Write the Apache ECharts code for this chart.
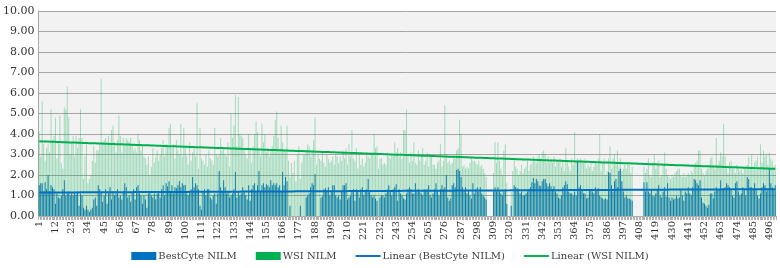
<!DOCTYPE html>
<html>
<head>
<meta charset="utf-8">
<script src="https://cdn.jsdelivr.net/npm/echarts@6/dist/echarts.min.js"></script>
<style>
  html, body { margin:0; padding:0; background:#fff; }
  #chart { width:780px; height:268px; }
</style>
</head>
<body>
<div id="chart"></div>
<script>
// categories 1..500 (sample index)
const categories = Array.from({length:500}, (_, i) => String(i + 1));
const yTicks = [0,1,2,3,4,5,6,7,8,9,10];

// WSI NILM, 20 per row
const wsi = [
  4.1,2.9,5.6,3.5,2.7,3.3,3.5,3.1,5.2,3.7,3.9,4.8,2.8,3.6,4.9,2.6,2.3,5.3,5.2,6.3,
  4.8,3.0,3.6,3.9,2.9,3.9,3.3,3.8,5.2,3.8,1.8,2.9,3.5,1.6,1.8,2.0,2.7,3.4,2.6,3.2,
  3.2,3.5,6.7,3.6,3.7,3.8,3.5,3.9,3.5,4.2,4.4,3.6,3.1,3.7,4.9,3.9,3.1,3.8,3.4,3.8,
  3.7,3.6,3.8,3.5,3.2,3.3,3.1,4.0,3.7,3.2,3.4,2.9,2.8,2.5,2.9,2.0,2.4,3.3,2.6,2.9,
  3.2,2.7,3.0,3.3,3.7,2.9,3.5,3.4,4.3,4.5,3.3,3.5,2.8,3.7,3.2,3.0,4.5,2.9,4.3,3.4,
  2.9,2.5,3.6,2.7,3.1,3.3,2.9,5.5,2.3,4.3,2.8,2.7,2.5,3.0,2.4,3.2,2.8,2.7,2.5,4.3,
  3.0,2.9,3.0,3.8,3.2,3.3,3.0,2.9,3.6,2.4,5.0,3.8,4.4,5.9,3.4,5.8,4.0,3.9,3.8,3.3,
  3.0,2.8,4.0,3.3,2.6,3.4,4.0,4.6,4.1,3.2,2.9,4.5,3.6,4.0,3.1,3.3,2.9,3.2,3.4,3.9,
  4.7,5.1,3.8,3.1,4.4,3.6,3.2,3.1,4.4,2.7,1.9,2.6,2.1,2.7,1.7,3.0,3.4,1.8,2.6,3.0,
  3.0,3.2,3.5,3.4,2.9,3.2,3.7,4.8,2.5,3.0,2.8,2.7,3.2,2.6,2.4,3.0,2.8,2.6,2.7,2.9,
  2.5,3.0,2.9,2.6,2.9,2.7,3.2,2.8,3.3,2.5,3.5,2.9,4.2,2.8,2.7,3.3,2.3,3.0,2.5,2.8,
  2.4,2.6,3.0,2.9,2.8,3.1,3.0,4.0,3.3,3.4,2.3,2.8,2.8,2.5,2.6,2.5,3.1,2.9,2.8,3.0,
  3.0,3.6,3.1,3.3,2.9,3.1,2.8,4.2,4.2,5.2,2.9,2.6,3.1,2.7,3.6,2.6,2.5,3.2,2.7,3.0,
  3.3,2.5,2.7,3.1,2.4,2.9,2.9,2.5,2.5,2.3,2.6,2.7,3.5,2.4,2.7,5.4,3.0,2.6,2.7,2.5,
  2.6,2.9,2.8,3.2,3.3,4.7,4.0,2.4,2.5,2.3,2.4,2.3,2.6,2.8,2.7,2.7,2.6,2.5,2.7,2.4,
  2.5,2.3,2.1,1.9,null,null,null,null,2.1,3.6,2.6,3.6,2.7,2.3,2.0,3.2,3.5,1.6,null,null,
  1.2,2.2,2.8,2.4,2.3,2.0,2.2,2.5,2.1,2.3,2.4,2.7,2.2,2.5,2.6,2.9,2.7,2.6,2.9,3.0,
  2.8,3.1,3.2,3.0,2.6,2.9,2.6,2.8,2.6,2.9,2.4,2.7,2.6,2.8,2.4,2.7,2.2,3.3,2.7,2.4,
  2.2,2.8,2.5,4.1,2.7,2.8,2.7,2.8,2.7,2.6,2.8,2.3,2.5,2.4,2.6,2.2,2.4,2.7,2.5,2.8,
  4.0,2.2,2.6,2.8,2.0,2.2,2.8,3.4,2.3,2.8,3.0,2.6,3.2,2.4,2.8,2.2,2.3,2.5,2.3,2.6,
  2.5,2.1,2.4,null,null,null,null,null,null,null,2.4,2.1,2.3,2.8,2.0,1.9,2.6,3.0,2.3,2.5,
  2.7,1.9,2.0,2.5,3.1,2.3,2.0,1.9,1.8,2.0,1.9,2.1,2.2,2.3,2.3,2.0,1.9,2.1,1.9,2.0,
  2.1,2.0,2.2,2.1,2.5,2.6,2.7,3.2,3.2,2.3,2.1,2.0,2.2,2.3,2.4,2.8,2.9,2.5,2.3,3.8,
  2.5,2.7,3.1,2.9,4.5,2.9,2.4,2.1,2.6,2.7,2.3,2.4,2.1,2.5,2.3,2.2,2.3,2.1,2.4,2.3,
  2.5,2.9,2.3,3.0,2.4,2.6,2.7,2.9,2.3,3.5,2.6,3.2,2.9,3.0,2.5,3.1,2.8,2.7,2.4,2.5
];

// BestCyte NILM, 20 per row
const bestcyte = [
  1.5,1.6,1.6,1.2,1.65,1.3,2.0,1.2,1.5,1.4,1.3,0.6,1.1,0.9,0.85,1.0,1.3,1.75,1.0,1.1,
  1.2,1.0,1.1,1.0,1.2,1.05,1.2,0.5,1.1,1.0,0.4,0.3,0.5,0.3,0.2,0.3,0.4,0.8,0.9,0.5,
  1.5,1.3,1.2,0.7,1.0,1.3,0.6,1.1,1.4,0.8,1.2,1.0,1.1,1.3,0.9,1.0,0.8,1.2,1.6,1.4,
  0.9,1.0,0.7,1.2,1.3,0.8,1.4,1.5,1.1,1.0,0.6,1.0,0.8,0.4,1.1,1.2,1.0,0.9,1.1,0.8,
  1.1,1.2,0.9,1.3,1.5,1.0,1.6,1.45,1.7,1.2,1.5,1.1,1.4,1.35,1.5,1.7,1.4,1.6,1.5,1.5,
  1.1,1.0,1.2,1.3,1.9,1.4,1.6,1.5,1.3,0.5,0.3,1.2,1.3,1.0,1.3,1.3,0.9,0.8,1.0,1.1,
  0.6,1.1,2.2,1.4,1.2,1.75,1.4,1.1,1.2,0.9,1.0,1.1,1.3,2.15,0.9,1.2,1.0,1.1,1.4,1.2,
  1.0,0.8,1.5,0.75,1.3,1.5,1.6,1.2,1.5,2.2,1.2,1.5,1.6,1.4,1.55,1.5,1.4,1.75,1.5,1.6,
  1.5,1.6,1.4,1.5,1.2,2.15,1.5,1.9,1.7,null,0.5,null,null,null,null,null,null,0.5,null,null,
  null,0.9,1.0,1.1,1.4,1.6,1.5,2.05,null,null,null,0.9,0.95,1.3,1.35,1.2,1.4,1.0,1.2,1.5,
  1.5,1.0,0.9,1.0,0.8,1.2,1.5,1.5,1.6,0.8,0.9,1.0,1.2,1.3,0.75,1.3,1.2,0.9,1.3,1.4,
  1.0,1.2,1.3,1.8,1.2,1.0,0.9,1.0,0.85,0.75,null,0.9,1.0,1.0,0.9,1.1,1.3,1.5,1.2,1.0,
  1.3,1.4,1.55,0.75,1.3,1.1,1.0,0.85,0.8,1.1,1.3,1.4,1.3,1.1,1.1,1.6,1.2,1.3,1.2,1.1,
  1.0,1.3,1.2,1.3,1.5,1.0,0.9,1.1,1.3,1.6,1.2,1.0,1.3,1.5,1.3,1.4,2.0,0.9,0.75,0.85,
  1.5,1.6,1.4,2.25,2.3,2.2,1.9,1.4,1.25,1.4,1.1,1.25,1.0,0.85,1.6,1.1,1.3,1.4,1.2,1.4,
  1.1,1.0,0.9,0.8,null,null,null,null,1.2,1.4,1.2,1.4,1.2,1.1,1.0,1.2,1.3,0.6,null,null,
  0.5,null,1.5,1.4,1.35,1.3,1.1,1.2,1.0,1.0,1.1,1.2,1.3,1.4,1.65,1.85,1.6,1.8,1.7,1.5,
  1.45,1.7,1.8,1.8,1.6,1.45,1.6,1.45,1.3,1.45,1.2,1.1,0.9,0.85,1.0,1.4,1.5,1.7,1.55,1.2,
  1.1,1.1,1.0,1.2,1.0,2.7,1.4,1.5,1.3,1.1,1.1,0.85,0.9,1.3,1.3,1.2,1.1,1.4,1.3,1.35,
  1.0,0.9,0.85,0.8,0.85,0.8,2.15,2.1,1.5,1.2,1.7,1.8,1.4,2.2,2.3,1.7,1.2,0.9,1.0,0.85,
  0.85,0.8,0.75,null,null,null,null,null,null,null,1.65,1.2,1.65,1.2,1.1,1.3,1.0,0.95,1.1,1.3,
  1.5,1.0,0.9,1.2,1.4,0.95,1.6,0.9,0.75,0.9,0.8,0.85,1.0,0.85,0.9,1.3,1.0,0.75,1.2,1.1,
  1.4,1.1,1.0,1.4,1.8,1.75,1.6,1.5,1.75,0.9,0.65,0.6,0.5,0.4,0.55,1.1,1.1,0.85,1.2,1.4,
  1.3,1.3,1.75,1.3,1.3,1.4,1.6,1.5,1.4,1.3,1.0,0.9,1.6,1.7,1.2,1.0,1.1,1.4,1.3,1.0,
  1.9,1.8,1.4,1.4,1.3,1.6,1.3,1.0,0.85,1.1,1.4,1.6,1.5,1.2,1.3,2.3,1.6,1.4,1.3,1.5
];

// least squares line over sample index, like the spreadsheet's linear trendline
function linear(vals){
  let n=0, sx=0, sy=0, sxx=0, sxy=0;
  vals.forEach((v,i)=>{ if(v==null) return; const x=i+1; n++; sx+=x; sy+=v; sxx+=x*x; sxy+=x*v; });
  const b=(n*sxy-sx*sy)/(n*sxx-sx*sx), a=(sy-b*sx)/n;
  return vals.map((_,i)=> +(a+b*(i+1)).toFixed(4));
}

const font = 'DejaVu Serif';
const lineIcon = 'path://M0,0H26V2H0Z';
const c = echarts.init(document.getElementById('chart'));
c.setOption({
  animation:false,
  grid:{ left:38, right:4, top:11, bottom:52, show:true, backgroundColor:'#f2f2f2', borderWidth:0 },
  legend:{
    bottom:2, left:'center', itemGap:19, itemWidth:25, itemHeight:8,
    textStyle:{ fontFamily:font, fontSize:10, color:'#404040', padding:[0,0,0,-3] },
    data:[
      { name:'BestCyte NILM', icon:'rect', itemStyle:{ color:'#0070c0' } },
      { name:'WSI NILM', icon:'rect', itemStyle:{ color:'#00b050' } },
      { name:'Linear (BestCyte NILM)', icon:lineIcon },
      { name:'Linear (WSI NILM)', icon:lineIcon }
    ]
  },
  xAxis:{
    type:'category', data:categories,
    axisLine:{ lineStyle:{ color:'#a6a6a6' } },
    axisTick:{ show:true, interval:0, length:4, lineStyle:{ color:'#b0b0b0' } },
    axisLabel:{ interval:10, rotate:90, margin:5, fontFamily:font, fontSize:10, color:'#333' }
  },
  yAxis:{
    type:'value', min:yTicks[0], max:yTicks[yTicks.length-1], interval:1,
    axisLine:{ show:true, lineStyle:{ color:'#a6a6a6' } },
    axisTick:{ show:false },
    splitLine:{ lineStyle:{ color:'#a6a6a6', width:1 } },
    axisLabel:{ margin:4, fontFamily:font, fontSize:11, color:'#333', formatter:v=>v.toFixed(2) }
  },
  series:[
    { name:'BestCyte NILM', type:'bar', data:bestcyte, barWidth:'60%', barGap:'-100%', z:3,
      itemStyle:{ color:'#0f7fa5' } },
    { name:'WSI NILM', type:'bar', data:wsi, barWidth:'45%', barGap:'-100%', z:2,
      itemStyle:{ color:'rgba(0,176,80,0.34)' } },
    { name:'Linear (BestCyte NILM)', type:'line', data:linear(bestcyte), symbol:'none', z:5,
      lineStyle:{ color:'#0070c0', width:2 }, itemStyle:{ color:'#0070c0' } },
    { name:'Linear (WSI NILM)', type:'line', data:linear(wsi), symbol:'none', z:5,
      lineStyle:{ color:'#00b050', width:2 }, itemStyle:{ color:'#00b050' } }
  ]
});
</script>
</body>
</html>
